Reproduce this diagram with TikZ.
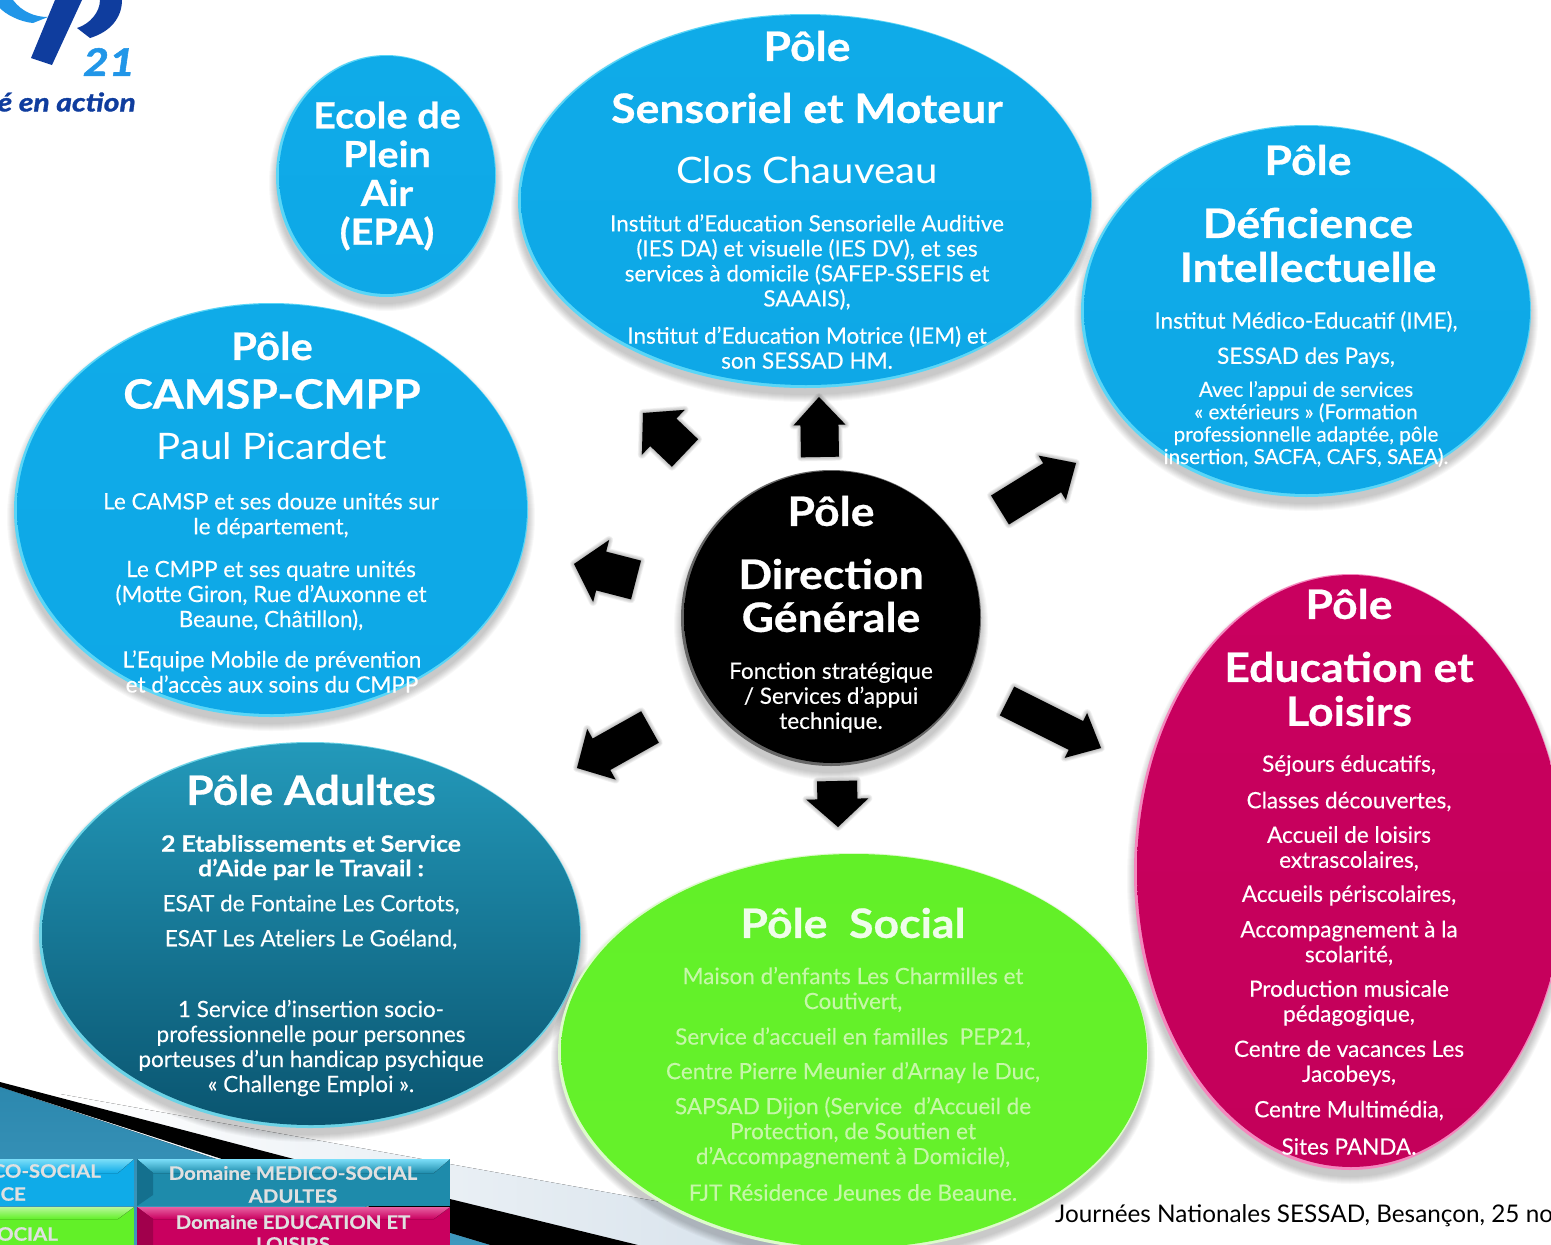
\documentclass[tikz,border=0pt]{standalone}
\usepackage{fontspec}
\setmainfont{Lato}[FakeBold=0.25]
\newfontfamily\footfont{Lato}
\newfontfamily\tfont{Lato}[FakeStretch=1.1,BoldFeatures={FakeBold=0.6}]
\newfontfamily\logofont{Lato}[FakeStretch=1.18,BoldItalicFeatures={FakeBold=1.4}]
\usetikzlibrary{shapes.geometric,calc}
\definecolor{skyA}{HTML}{0FABE8}
\definecolor{skyB}{HTML}{0EA8E7}
\definecolor{skyRim}{HTML}{5AD6F7}
\definecolor{tealA}{HTML}{2399BA}
\definecolor{tealB}{HTML}{0A5570}
\definecolor{tealRim}{HTML}{6CD3E6}
\definecolor{greenA}{HTML}{62F028}
\definecolor{greenB}{HTML}{66F22B}
\definecolor{greenRim}{HTML}{DDFBCB}
\definecolor{magA}{HTML}{C9005F}
\definecolor{magB}{HTML}{C4005A}
\definecolor{magRim}{HTML}{F488BE}
\definecolor{blackRim}{HTML}{666666}
\definecolor{logoDark}{HTML}{0F3D9E}
\definecolor{logoLight}{HTML}{2196E8}
\definecolor{greenText}{HTML}{C6F7A8}
\definecolor{bandGrey}{HTML}{D0DDE8}
\definecolor{bandTealA}{HTML}{2C88AE}
\definecolor{bandTealB}{HTML}{3F98BE}
\tikzset{
  polebg/.style={ellipse,inner sep=0pt,draw=none},
  titleb/.style={text=white,align=center,inner sep=0pt,font=\tfont\bfseries\fontsize{40.5}{44}\selectfont},
  titler/.style={text=white,align=center,inner sep=0pt,font=\tfont\fontsize{36.5}{42}\selectfont},
  bodyt/.style={text=white,align=center,inner sep=0pt,yshift=-0.5pt,font=\fontsize{22.5}{25}\selectfont},
  smallt/.style={text=white,align=center,inner sep=0pt,yshift=-0.5pt,font=\fontsize{20.7}{22.4}\selectfont},
  boldt/.style={text=white,align=center,inner sep=0pt,yshift=-1.5pt,font=\tfont\bfseries\fontsize{22.5}{24.5}\selectfont},
  gbody/.style={bodyt,text=greenText},
  boxt/.style={text=white!88!black,align=center,inner sep=0pt,font=\tfont\bfseries\fontsize{18.5}{22}\selectfont},
  boxbody/.style={rectangle,inner sep=0pt,draw=none,anchor=north west},
  pfeil/.style={fill=black,draw=none}
}
\newcommand{\polebody}[8]{%
  \foreach \k in {0,...,7}{\fill[black,opacity=0.028] (#2,#3+7) ellipse ({#4+\k} and {#5+\k});}
  \fill[#6] (#2,#3) ellipse (#4 and #5);
  \node[polebg,minimum width={2*#4-4},minimum height={2*#5-4},top color=#7,bottom color=#8] (#1) at (#2+1,#3-1) {};
}
\newcommand{\fleche}[7]{%
  \coordinate (#1a) at (#2,#3);
  \coordinate (#1b) at (#4,#5);
  \coordinate (#1h) at ($(#1b)!28pt!(#1a)$);
  \foreach \k in {1,...,5}{
    \fill[black,opacity=0.05,line join=round,draw=black,line width={\k*1.6pt},shift={(2pt,-3pt)}]
      ($(#1a)!#6pt!90:(#1b)$) -- ($(#1h)!#6pt!90:(#1b)$) -- ($(#1h)!#7pt!90:(#1b)$) -- (#1b)
      -- ($(#1h)!#7pt!-90:(#1b)$) -- ($(#1h)!#6pt!-90:(#1b)$) -- ($(#1a)!#6pt!-90:(#1b)$) -- cycle;}
  \fill[pfeil] ($(#1a)!#6pt!90:(#1b)$) -- ($(#1h)!#6pt!90:(#1b)$) -- ($(#1h)!#7pt!90:(#1b)$) -- (#1b)
      -- ($(#1h)!#7pt!-90:(#1b)$) -- ($(#1h)!#6pt!-90:(#1b)$) -- ($(#1a)!#6pt!-90:(#1b)$) -- cycle;
}
\begin{document}
\begin{tikzpicture}[x=1pt,y=-1pt]
\useasboundingbox (0,0) rectangle (1551,1245);
\clip (0,0) rectangle (1551,1245);
\fill[white] (0,0) rectangle (1551,1245);
% bottom-left band
\fill[left color=white,right color=bandGrey] (60,1094) -- (633,1197) -- (900,1245) -- (60,1245) -- cycle;
\fill[black] (0,1082) -- (290,1158) -- (450,1199) -- (638,1245) -- (490,1245) -- (450,1233) -- (0,1087) -- cycle;
\fill[top color=bandTealA,bottom color=bandTealB] (0,1087) -- (210,1157) -- (450,1233) -- (490,1245) -- (0,1245) -- cycle;
% legend boxes
\node[boxbody,minimum width=134,minimum height=47,fill=skyA] (bxA) at (0,1159) {};
\node[boxbody,minimum width=313,minimum height=47,fill=tealA!80!tealB] (bxB) at (137,1159) {};
\node[boxbody,minimum width=134,minimum height=39,fill=greenA] (bxC) at (0,1207) {};
\node[boxbody,minimum width=313,minimum height=39,fill=magA] (bxD) at (137,1207) {};
\fill[top color=skyRim!80!white,bottom color=skyA] (0,1159) -- (134,1159) -- (118,1173) -- (0,1173) -- cycle;
\fill[top color=skyRim!80!white,bottom color=tealA!80!tealB] (137,1159) -- (450,1159) -- (434,1173) -- (153,1173) -- cycle;
\fill[tealB!60!tealA] (137,1159) -- (153,1173) -- (153,1195) -- (137,1206) -- cycle;
\fill[top color=greenRim!70!greenA,bottom color=greenA] (0,1207) -- (134,1207) -- (118,1219) -- (0,1219) -- cycle;
\fill[top color=magRim!70!magA,bottom color=magA] (137,1207) -- (450,1207) -- (434,1219) -- (153,1219) -- cycle;
\fill[magA!80!black] (137,1207) -- (153,1219) -- (153,1246) -- (137,1246) -- cycle;
\node[boxt,anchor=east] (tA1) at (101,1171) {CO-SOCIAL};
\node[boxt,anchor=east] (tA2) at (26,1194) {CE};
\node[boxt,anchor=east] (tC1) at (58,1234) {OCIAL};
\node[boxt] (tB1) at (293,1173) {Domaine MEDICO-SOCIAL};
\node[boxt] (tB2) at (293,1196) {ADULTES};
\node[boxt] (tD1) at (293,1222) {Domaine EDUCATION ET};
\node[boxt] (tD2) at (293,1244) {LOISIRS};
% logo
\fill[logoLight] (13,0) .. controls (22,12) and (35,17) .. (48,17) -- (33,23) .. controls (20,22) and (5,14) .. (0,8) -- (0,0) -- cycle;
\fill[logoDark] (55,0) -- (31,58) -- (52,65) -- (82,0) -- cycle;
\fill[logoDark] (100,0) .. controls (100,12) and (90,24) .. (77,28) -- (90,38) .. controls (110,32) and (122,18) .. (122,0) -- cycle;
\node[text=logoLight,inner sep=0pt,font=\logofont\bfseries\itshape\fontsize{38}{38}\selectfont] (logo21) at (109,62) {21};
\node[text=logoDark,inner sep=0pt,anchor=east,font=\logofont\bfseries\itshape\fontsize{25.5}{25}\selectfont] (logoT) at (136,102) {é en action};
% poles
\polebody{pEPA}{386}{176}{110}{121}{skyRim}{skyA}{skyB}
\polebody{pSens}{805}{201}{287}{187}{skyRim}{skyA}{skyB}
\polebody{pDef}{1306}{311}{225}{186}{skyRim}{skyA}{skyB}
\polebody{pCam}{271}{510}{257}{207}{skyRim}{skyA}{skyB}
\polebody{pAdu}{310}{935}{271}{193}{tealRim}{tealA}{tealB}
\polebody{pSoc}{853}{1052}{295}{199}{greenRim}{greenA}{greenB}
\polebody{pEdu}{1350}{872}{216}{298}{magRim}{magA}{magB}
\polebody{pDir}{831}{618}{150}{148}{blackRim}{black}{black}
% arrows
\fleche{aU}{820}{457}{819}{397}{19}{26}
\fleche{aUL}{685}{453}{643}{413}{19}{31}
\fleche{aUR}{1000}{510}{1076}{463}{17}{26}
\fleche{aL}{636}{580}{574}{564}{20}{32}
\fleche{aDL}{650}{727}{577}{768}{18}{29}
\fleche{aD}{837}{781}{838}{827}{20}{31}
\fleche{aDR}{1007}{701}{1101}{748}{16}{25}
% EPA
\node[titleb,font=\tfont\bfseries\fontsize{36}{38.8}\selectfont] (tEPA) at (387,176) {Ecole de\\Plein\\Air\\(EPA)};
% Sensoriel
\node[titleb] (tS1) at (807,46) {Pôle};
\node[titleb] (tS2) at (807,108) {Sensoriel et Moteur};
\node[titler] (tS3) at (807,170) {Clos Chauveau};
\node[bodyt] (tS4) at (807,261.5) {Institut d’Education Sensorielle Auditive\\(IES DA) et visuelle (IES DV), et ses\\services à domicile (SAFEP-SSEFIS et\\SAAAIS),};
\node[bodyt] (tS5) at (807,347) {Institut d’Education Motrice (IEM) et\\son SESSAD HM.};
% Deficience
\node[titleb] (tF1) at (1308,160) {Pôle};
\node[titleb] (tF2) at (1308,223) {Déficience};
\node[titleb] (tF3) at (1308,267) {Intellectuelle};
\node[bodyt] (tF4) at (1306,321) {Institut Médico-Educatif (IME),};
\node[bodyt] (tF5) at (1306,357) {SESSAD des Pays,};
\node[smallt] (tF6) at (1306,423.5) {Avec l’appui de services\\« extérieurs » (Formation\\professionnelle adaptée, pôle\\insertion, SACFA, CAFS, SAEA).};
% CAMSP
\node[titleb,font=\tfont\bfseries\fontsize{38}{42}\selectfont] (tC1b) at (272,346) {Pôle};
\node[titleb] (tC2b) at (272,394) {CAMSP-CMPP};
\node[titler] (tC3b) at (272,446) {Paul Picardet};
\node[bodyt] (tC4b) at (271,515) {Le CAMSP et ses douze unités sur\\le département,};
\node[bodyt] (tC5b) at (271,595) {Le CMPP et ses quatre unités\\(Motte Giron, Rue d’Auxonne et\\Beaune, Châtillon),};
\node[bodyt] (tC6b) at (272,671) {L’Equipe Mobile de prévention\\et d’accès aux soins du CMPP};
% Direction
\node[titleb] (tD1b) at (831,511) {Pôle};
\node[titleb] (tD2b) at (831,574) {Direction};
\node[titleb] (tD3b) at (831,617) {Générale};
\node[bodyt] (tD4b) at (831,697) {Fonction stratégique\\/ Services d’appui\\technique.};
% Adultes
\node[titleb] (tA1b) at (311,790) {Pôle Adultes};
\node[boldt] (tA2b) at (311,856) {2 Etablissements et Service\\d’Aide par le Travail :};
\node[bodyt] (tA3b) at (311,904) {ESAT de Fontaine Les Cortots,};
\node[bodyt] (tA4b) at (311,939) {ESAT Les Ateliers Le Goéland,};
\node[bodyt] (tA5b) at (311,1047.5) {1 Service d’insertion socio-\\professionnelle pour personnes\\porteuses d’un handicap psychique\\« Challenge Emploi ».};
% Social
\node[titleb,text=white!90!greenA] (tO1) at (853,923) {Pôle\ \ Social};
\node[gbody] (tO2) at (853,989) {Maison d’enfants Les Charmilles et\\Coutivert,};
\node[gbody] (tO3) at (853,1037) {Service d’accueil en familles\ \ PEP21,};
\node[gbody] (tO4) at (853,1072) {Centre Pierre Meunier d’Arnay le Duc,};
\node[gbody] (tO5) at (853,1132) {SAPSAD Dijon (Service\ \ d’Accueil de\\Protection, de Soutien et\\d’Accompagnement à Domicile),};
\node[gbody] (tO6) at (853,1192) {FJT Résidence Jeunes de Beaune.};
% Education
\node[titleb] (tE1) at (1349,604) {Pôle};
\node[titleb] (tE2) at (1349,667) {Education et};
\node[titleb] (tE3) at (1349,711) {Loisirs};
\node[bodyt] (tE4) at (1349,765) {Séjours éducatifs,};
\node[bodyt] (tE5) at (1349,801) {Classes découvertes,};
\node[bodyt] (tE6) at (1349,848) {Accueil de loisirs\\extrascolaires,};
\node[bodyt] (tE7) at (1349,895) {Accueils périscolaires,};
\node[bodyt] (tE8) at (1349,942.5) {Accompagnement à la\\scolarité,};
\node[bodyt] (tE9) at (1349,1002.5) {Production musicale\\pédagogique,};
\node[bodyt] (tE10) at (1349,1062.5) {Centre de vacances Les\\Jacobeys,};
\node[bodyt] (tE11) at (1349,1110) {Centre Multimédia,};
\node[bodyt] (tE12) at (1349,1146) {Sites PANDA.};
% footer
\node[text=black,inner sep=0pt,anchor=west,font=\footfont\fontsize{24.3}{26}\selectfont] (foot) at (1055,1216) {Journées Nationales SESSAD, Besançon, 25 no};
\end{tikzpicture}
\end{document}
